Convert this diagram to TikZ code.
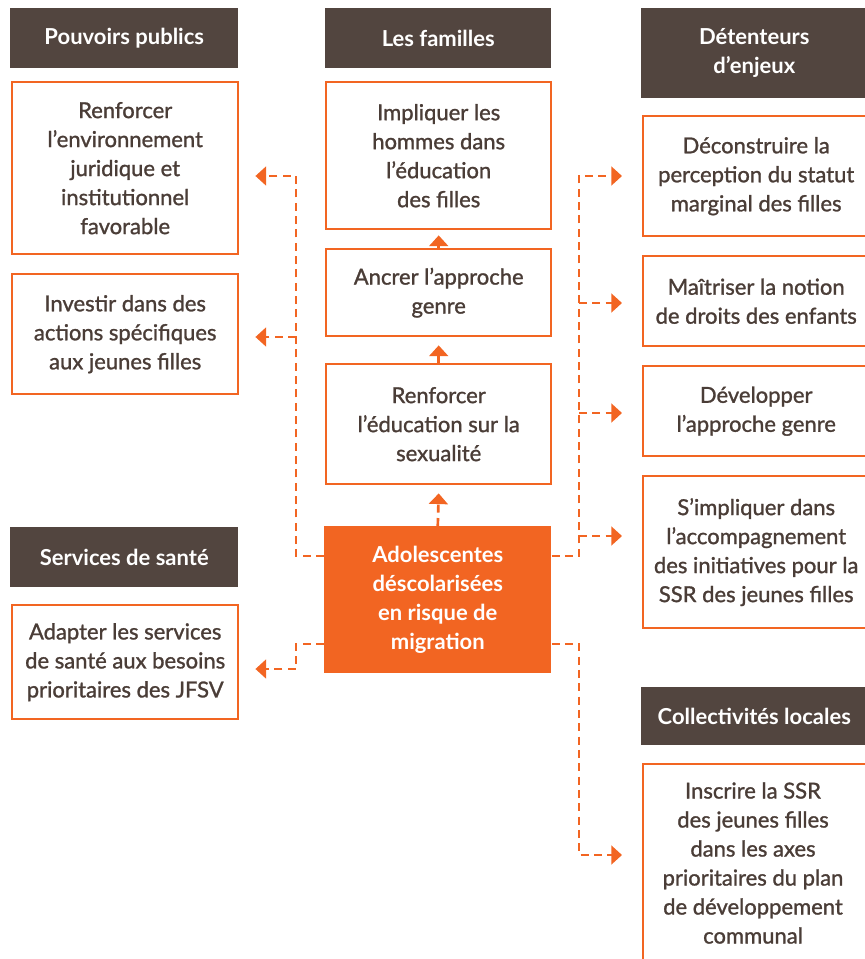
\documentclass[tikz,border=0pt]{standalone}
\usepackage{fontspec}
\setmainfont{Lato}
\newfontfamily\medfont{Lato}[FakeBold=1.2]
\usetikzlibrary{arrows.meta,calc}
\definecolor{org}{HTML}{F26522}
\definecolor{brn}{HTML}{52453F}
\definecolor{txt}{HTML}{4A3D37}
\tikzset{
  hdr/.style={fill=brn, text=white, font=\fontsize{16.5}{21.75}\selectfont\bfseries, align=center, anchor=north west, inner sep=0pt},
  wbox/.style={draw=org, line width=1.8pt, fill=white, text=txt, font=\medfont\fontsize{16.5}{21.75}\selectfont, align=center, anchor=north west, inner sep=0pt},
  cbox/.style={fill=org, text=white, font=\fontsize{16.5}{21.75}\selectfont\bfseries, align=center, anchor=north west, inner sep=0pt},
  conn/.style={draw=org, line width=2pt, dash pattern=on 6pt off 4pt, -{Triangle[length=8pt,width=14pt]}},
  sconn/.style={draw=org, line width=2pt, -{Triangle[length=8pt,width=14pt]}},
}
\begin{document}
\begin{tikzpicture}[x=0.75pt,y=-0.75pt]
\useasboundingbox (0,0) rectangle (864,959);
% headers
\node[hdr, minimum width=228*0.75pt, minimum height=60*0.75pt] (h1) at (10,8) {Pouvoirs publics};
\node[hdr, minimum width=226*0.75pt, minimum height=60*0.75pt] (h2) at (325,8) {Les familles};
\node[hdr, minimum width=226*0.75pt, minimum height=90*0.75pt] (h3) at (641,8) {D\'etenteurs\\d’enjeux};
\node[hdr, minimum width=228*0.75pt, minimum height=60*0.75pt] (h4) at (10,527) {Services de sant\'e};
\node[hdr, minimum width=226*0.75pt, minimum height=58*0.75pt] (h5) at (641,687) {Collectivit\'es locales};
% left boxes
\node[wbox, minimum width=226*0.75pt, minimum height=172*0.75pt] (l1) at (11,81) {Renforcer\\l’environnement\\juridique et\\institutionnel\\favorable};
\node[wbox, minimum width=226*0.75pt, minimum height=120*0.75pt] (l2) at (11,273) {Investir dans des\\actions sp\'ecifiques\\aux jeunes filles};
\node[wbox, minimum width=226*0.75pt, minimum height=114*0.75pt] (l3) at (11,604) {Adapter les services\\de sant\'e aux besoins\\prioritaires des JFSV};
% middle boxes
\node[wbox, minimum width=225*0.75pt, minimum height=147*0.75pt] (m1) at (325,81) {Impliquer les\\hommes dans\\l’\'education\\des filles};
\node[wbox, minimum width=225*0.75pt, minimum height=87*0.75pt] (m2) at (325,248) {Ancrer l’approche\\genre};
\node[wbox, minimum width=225*0.75pt, minimum height=120*0.75pt] (m3) at (325,363) {Renforcer\\l’\'education sur la\\sexualit\'e};
\node[cbox, minimum width=227*0.75pt, minimum height=147*0.75pt] (c) at (324,526) {Adolescentes\\d\'escolaris\'ees\\en risque de\\migration};
% right boxes (extend past the edge)
\node[wbox, minimum width=226*0.75pt, minimum height=120*0.75pt] (r1) at (642,115) {D\'econstruire la\\perception du statut\\marginal des filles};
\node[wbox, minimum width=226*0.75pt, minimum height=90*0.75pt] (r2) at (642,255) {Ma\^itriser la notion\\de droits des enfants};
\node[wbox, minimum width=226*0.75pt, minimum height=90*0.75pt] (r3) at (642,365) {D\'evelopper\\l’approche genre};
\node[wbox, minimum width=226*0.75pt, minimum height=152*0.75pt] (r4) at (642,475) {S’impliquer dans\\l’accompagnement\\des initiatives pour la\\SSR des jeunes filles};
\node[wbox, minimum width=226*0.75pt, minimum height=220*0.75pt] (r5) at (642,763) {};
\node[text=txt, font=\medfont\fontsize{16.5}{21.75}\selectfont, align=center] (r5t) at (753,863) {Inscrire la SSR\\des jeunes filles\\dans les axes\\prioritaires du plan\\de d\'eveloppement\\communal};
% junction coordinates
\coordinate (jl) at (296,556);
\coordinate (jll) at (296,644);
\coordinate (jr) at (579,556);
\coordinate (jrl) at (579,644);
% left connectors
\draw[conn] (c.west |- jl) -- (jl) -- (296,176) -- ($(l1.east |- 0,176)+(16,0)$);
\draw[conn] (296,337) -- ($(l2.east |- 0,337)+(16,0)$);
\draw[conn] (c.west |- jll) -- (jll) -- (296,669) -- ($(l3.east |- 0,669)+(16,0)$);
% right connectors
\draw[conn] (c.east |- jr) -- (jr) -- (579,176) -- ($(r1.west |- 0,176)+(-20,0)$);
\draw[conn] (579,303) -- ($(r2.west |- 0,303)+(-20,0)$);
\draw[conn] (579,413) -- ($(r3.west |- 0,413)+(-20,0)$);
\draw[conn] (579,536) -- ($(r4.west |- 0,536)+(-20,0)$);
\draw[conn] (c.east |- jrl) -- (jrl) -- (579,855) -- ($(r5.west |- 0,855)+(-20,0)$);
% vertical arrows
\draw[conn] (c.north) -- ($(m3.south)+(0,8)$);
\draw[sconn] (m3.north) -- ($(m2.south)+(0,8)$);
\draw[sconn] (m2.north) -- ($(m1.south)+(0,5)$);
\end{tikzpicture}
\end{document}
